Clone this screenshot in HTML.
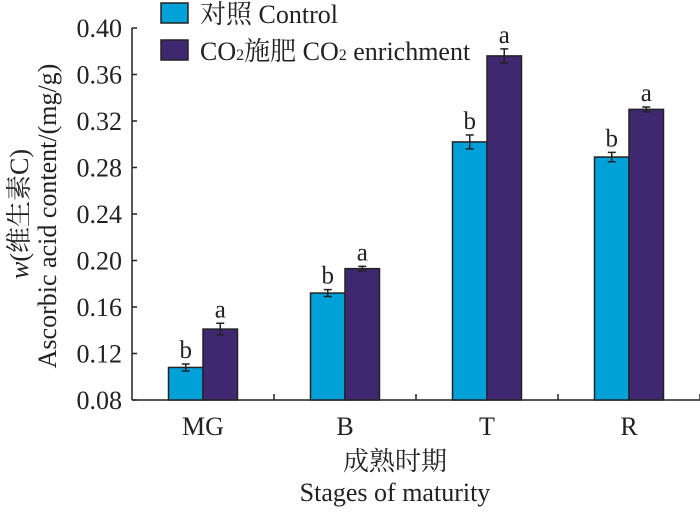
<!DOCTYPE html>
<html><head><meta charset="utf-8"><style>
body{margin:0;background:#fff}
svg text{font-family:"Liberation Serif","Times New Roman","Noto Serif CJK SC","Noto Sans CJK SC",serif;fill:#222}
</style></head><body>
<svg width="700" height="512" viewBox="0 0 700 512" xmlns="http://www.w3.org/2000/svg" font-family="Liberation Serif, Times New Roman, Noto Serif CJK SC, serif">
<g>
<rect x="161" y="3" width="27" height="20" fill="#00A0D8" stroke="#222" stroke-width="1.5"/>
<text x="200" y="23" font-size="26">对照 Control</text>
<rect x="161" y="40" width="27" height="20" fill="#3F2870" stroke="#222" stroke-width="1.5"/>
<text x="200" y="60" font-size="26">CO<tspan font-size="16">2</tspan>施肥 CO<tspan font-size="16">2</tspan> enrichment</text>
</g>
<g id="plot"></g>
<text transform="translate(28,214) rotate(-90)" text-anchor="middle" font-size="26"><tspan font-style="italic">w</tspan>(维生素C)</text>
<text transform="translate(56,216) rotate(-90)" text-anchor="middle" font-size="26">Ascorbic acid content/(mg/g)</text>
<text x="395" y="470" text-anchor="middle" font-size="26">成熟时期</text>
<text x="395" y="501" text-anchor="middle" font-size="26">Stages of maturity</text>
</svg>
<script>
const categories=["MG","B","T","R"];
const controlValues=[0.108,0.172,0.302,0.289];
const controlErrors=[0.003,0.003,0.006,0.004];
const enrichValues=[0.141,0.193,0.376,0.330];
const enrichErrors=[0.005,0.002,0.006,0.002];
const controlLetters=["b","b","b","b"];
const enrichLetters=["a","a","a","a"];
const yTicks=[0.08,0.12,0.16,0.20,0.24,0.28,0.32,0.36,0.40];

const NS="http://www.w3.org/2000/svg";
const g=document.getElementById('plot');
const X0=132,GW=142,BW=34.5,Y0=400,Y1=28,VMIN=0.08,VMAX=0.40;
const y=v=>Y0-(v-VMIN)/(VMAX-VMIN)*(Y0-Y1);
const gc=i=>X0+GW*(i+0.5);
function mk(t,a){const e=document.createElementNS(NS,t);for(const k in a)e.setAttribute(k,a[k]);g.appendChild(e);return e;}
let e;
e=mk('line',{x1:X0,y1:Y1,x2:X0,y2:Y0,stroke:'#222','stroke-width':1.5});


e=mk('line',{x1:X0,y1:Y0,x2:700,y2:Y0,stroke:'#222','stroke-width':1.5});


yTicks.forEach(t=>{
 e=mk('line',{x1:X0,y1:y(t),x2:X0+5,y2:y(t),stroke:'#222','stroke-width':1.5});
 
 
 e=mk('text',{x:X0-10,y:y(t)+9,'text-anchor':'end','font-size':26});
 e.textContent=t.toFixed(2);
 
 
});
categories.forEach((c,i)=>{
 const xt=X0+GW*(i+1);
 e=mk('line',{x1:xt,y1:Y0,x2:xt,y2:Y0-6,stroke:'#222','stroke-width':1.5});
 
 
 e=mk('text',{x:gc(i),y:Y0+35,'text-anchor':'middle','font-size':26});
 e.textContent=c;
 
 
 [[controlValues,controlErrors,controlLetters,'#00A0D8',-BW,'control'],[enrichValues,enrichErrors,enrichLetters,'#3F2870',0,'enrichment']].forEach(([vals,errs,lets,col,off,nm])=>{
  const v=vals[i],x=gc(i)+off;
  e=mk('rect',{x:x,y:y(v),width:BW,height:Y0-y(v),fill:col,stroke:'#222','stroke-width':1.5});
  
  
  const cx=x+BW/2,t=y(v+errs[i]),b=y(v-errs[i]);
  e=mk('path',{d:`M${cx},${t}V${b}M${cx-4},${t}H${cx+4}M${cx-4},${b}H${cx+4}`,stroke:'#222','stroke-width':1.5,fill:'none'});
  
  
  e=mk('text',{x:cx,y:t-6,'text-anchor':'middle','font-size':25});
  e.textContent=lets[i];
  
  
 });
});
</script>
</body></html>
